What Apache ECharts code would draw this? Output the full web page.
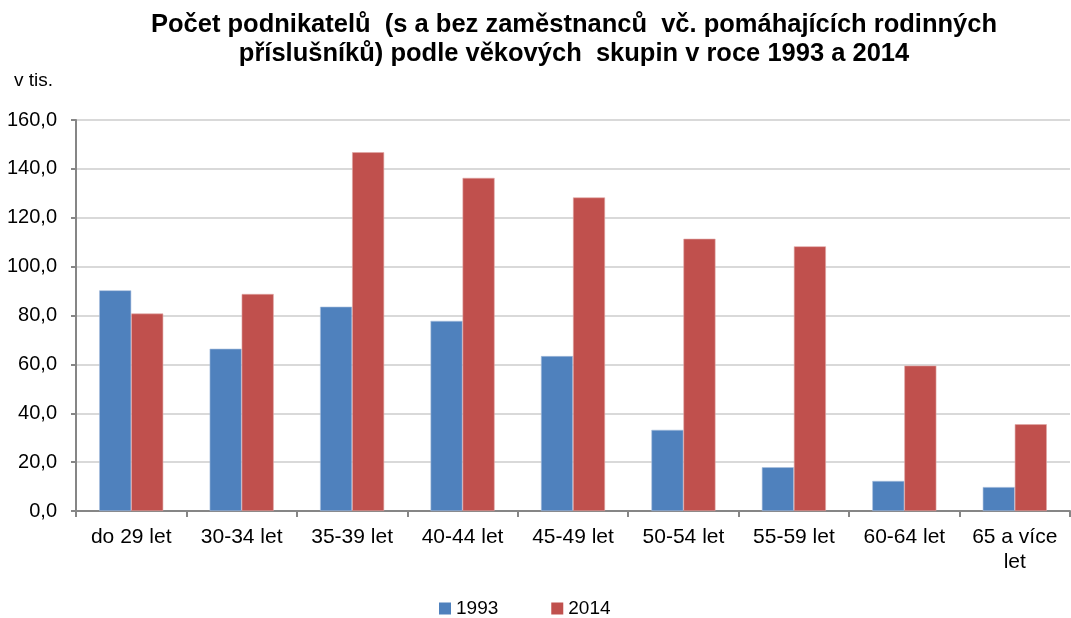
<!DOCTYPE html>
<html>
<head>
<meta charset="utf-8">
<script src="https://cdn.jsdelivr.net/npm/echarts@6/dist/echarts.min.js"></script>
<style>
html,body{margin:0;padding:0;background:#fff;}
#main{width:1071px;height:618px;}
</style>
</head>
<body>
<div id="main"></div>
<script>
const categories = ['do 29 let','30-34 let','35-39 let','40-44 let','45-49 let','50-54 let','55-59 let','60-64 let','65 a více\nlet'];
const values1993 = [90.3, 66.4, 83.6, 77.8, 63.4, 33.2, 17.9, 12.3, 9.8];
const values2014 = [80.8, 88.8, 146.8, 136.3, 128.3, 111.4, 108.3, 59.5, 35.5];
const seriesNames = ['1993', '2014'];
const titleText = 'Počet podnikatelů  (s a bez zaměstnanců  vč. pomáhajících rodinných\npříslušníků) podle věkových  skupin v roce 1993 a 2014';
const unitText = 'v tis.';

const chart = echarts.init(document.getElementById('main'), null, {renderer:'canvas'});
const font = "'Liberation Sans', Arial, sans-serif";
chart.setOption({
  animation: false,
  title: [{
    text: titleText,
    left: 569,
    top: 5,
    textAlign: 'center',
    textStyle: {fontFamily: font, fontSize: 25.5, fontWeight: 'bold', color: '#000', lineHeight: 29}
  },{
    text: unitText,
    left: 9,
    top: 66,
    textStyle: {fontFamily: font, fontSize: 19, fontWeight: 'normal', color: '#000'}
  }],
  legend: {
    data: seriesNames,
    top: 599,
    left: 439,
    padding: 0,
    itemWidth: 12,
    itemHeight: 12,
    itemGap: 53,
    icon: 'rect',
    itemStyle: {borderWidth: 0},
    textStyle: {fontFamily: font, fontSize: 19, color: '#000', padding: [0,0,0,0]}
  },
  grid: {left: 76, right: 1, top: 120, bottom: 107, containLabel: false},
  xAxis: {
    type: 'category',
    data: categories,
    axisLine: {lineStyle: {color: '#868686', width: 2}},
    axisTick: {show: true, length: 6, lineStyle: {color: '#868686', width: 2}},
    axisLabel: {fontFamily: font, fontSize: 21, color: '#000', margin: 14, lineHeight: 25, interval: 0}
  },
  yAxis: {
    type: 'value',
    min: 0, max: 160, interval: 20,
    axisLine: {show: true, lineStyle: {color: '#868686', width: 2}},
    axisTick: {show: true, inside: false, length: 5, lineStyle: {color: '#868686', width: 2}},
    splitLine: {lineStyle: {color: '#d9d9d9', width: 2}},
    axisLabel: {fontFamily: font, fontSize: 20, color: '#000', margin: 19,
      formatter: v => v.toFixed(1).replace('.', ',')}
  },
  series: [{
    name: seriesNames[0], type: 'bar', data: values1993,
    barGap: '0%', barCategoryGap: '42%',
    itemStyle: {color: '#4F81BD', borderColor: '#a9c0de', borderWidth: 0.6}
  },{
    name: seriesNames[1], type: 'bar', data: values2014,
    barGap: '0%', barCategoryGap: '42%',
    itemStyle: {color: '#C0504D', borderColor: '#e0a8a6', borderWidth: 0.6}
  }]
});
</script>
</body>
</html>
